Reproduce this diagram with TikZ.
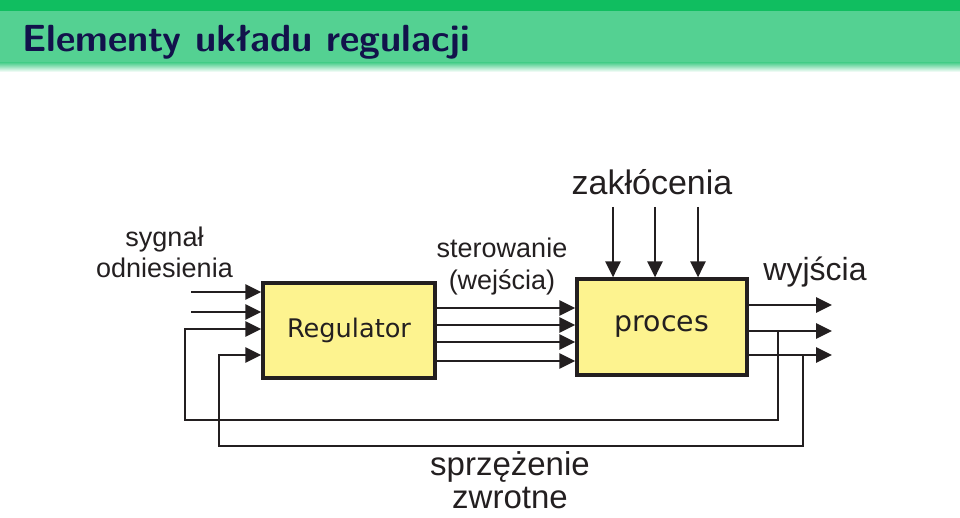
\documentclass[tikz,border=0pt]{standalone}
\usepackage{fontspec}
\setmainfont{Liberation Sans}
\newfontfamily\dejavu{DejaVu Sans}
\newfontfamily\titlefont{lmsans10-bold}[Extension=.otf]
\usetikzlibrary{arrows.meta}
\definecolor{boxyellow}{RGB}{253,243,143}
\definecolor{linegray}{RGB}{35,31,32}
\definecolor{bargreen}{RGB}{16,190,96}
\definecolor{barlight}{RGB}{84,209,146}
\definecolor{titleblue}{RGB}{18,18,75}

\begin{document}
\begin{tikzpicture}[
		x=1pt, y=-1pt,
		block/.style={draw=linegray, line width=3.2pt, fill=boxyellow, inner sep=0pt, text=linegray},
		sig/.style={draw=linegray, line width=2.8pt, -{Triangle[length=16pt,width=15pt]}},
		lbl/.style={inner sep=0pt, align=center, text=linegray}
	]
  \useasboundingbox (0,0) rectangle (960,518);
  % title bar
  \fill[bargreen] (0,0) rectangle (960,11);
  \fill[barlight] (0,11) rectangle (960,63);
  \shade[top color=barlight, bottom color=white] (0,63) rectangle (960,72);
  \node (title) [anchor=base west, inner sep=0pt, text=titleblue, font=\titlefont\fontsize{37.8}{42}\selectfont] at (22,52) {Elementy układu regulacji};
  % blocks
  \node (reg) [block, minimum width=172pt, minimum height=95pt, font=\dejavu\fontsize{25.6}{30}\selectfont] at (349,330.5) {Regulator};
  \node (proc) [block, minimum width=170pt, minimum height=96pt, font=\dejavu\fontsize{28.4}{34}\selectfont] at (662,327) {proces};
  % reference inputs
  \coordinate (r1) at (191,292);
  \coordinate (r2) at (191,312);
  \draw[sig] (r1) -- (r1 -| reg.west);
  \draw[sig] (r2) -- (r2 -| reg.west);
  % control signals
  \foreach \y in {308,325,342,361}
    \draw[sig] (reg.east |- 0,\y) -- (proc.west |- 0,\y);
  % disturbances
  \foreach \x [count=\i] in {613,655,698} {
    \coordinate (d\i) at (\x,207);
    \draw[sig] (d\i) -- (d\i |- proc.north);
  }
  % outputs
  \foreach \y [count=\i] in {305,331,355} {
    \coordinate (y\i) at (832,\y);
    \draw[sig] (y\i -| proc.east) -- (y\i);
  }
  % feedback
  \coordinate (fb1) at (778,420);
  \coordinate (fb2) at (803,446);
  \coordinate (fb1in) at (185,329);
  \coordinate (fb2in) at (219,355);
  \draw[sig] (fb1 |- y2) -- (fb1) -| (fb1in) -- (fb1in -| reg.west);
  \draw[sig] (fb2 |- y3) -- (fb2) -| (fb2in) -- (fb2in -| reg.west);
  % labels
  \node (ref) [lbl, anchor=base, font=\fontsize{27}{31}\selectfont] at (164.5,278) {sygnał\\odniesienia};
  \node (ctrl) [lbl, anchor=base, font=\fontsize{27}{32}\selectfont] at (502,290) {sterowanie\\(wejścia)};
  \node (dist) [lbl, anchor=base, font=\fontsize{34}{40}\selectfont] at (652,195) {zakłócenia};
  \node (out) [lbl, anchor=base, font=\fontsize{32}{38}\selectfont] at (815,280) {wyjścia};
  \node (fb) [lbl, anchor=base, font=\fontsize{33}{33}\selectfont] at (510,508) {sprzężenie\\zwrotne};
\end{tikzpicture}
\end{document}
